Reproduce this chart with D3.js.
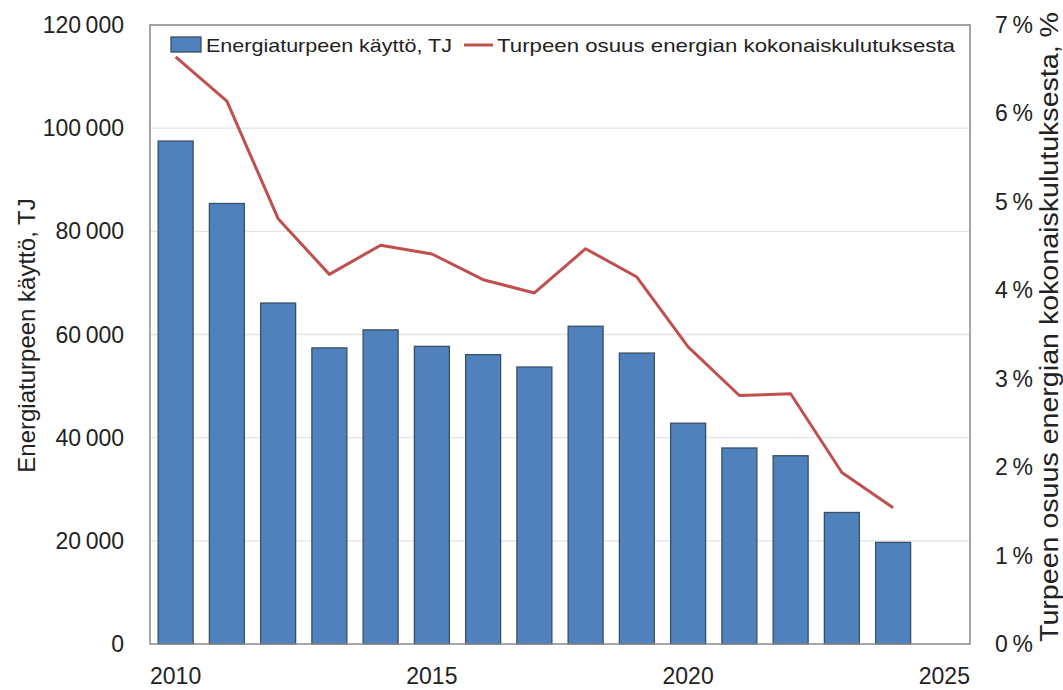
<!DOCTYPE html>
<html>
<head>
<meta charset="utf-8">
<script src="https://cdn.jsdelivr.net/npm/d3@7"></script>
<style>
  body { margin: 0; background: #fff; }
  text { font-family: "Liberation Sans", Arial, sans-serif; fill: #222; }
</style>
</head>
<body>
<svg id="chart" width="1063" height="690"></svg>
<script>
// values
const years = [2010, 2011, 2012, 2013, 2014, 2015, 2016, 2017, 2018, 2019, 2020, 2021, 2022, 2023, 2024];
const peatUseTJ = [97500, 85400, 66100, 57400, 60900, 57700, 56100, 53700, 61600, 56400, 42800, 38000, 36500, 25500, 19700];
const peatSharePct = [6.64, 6.14, 4.81, 4.18, 4.51, 4.41, 4.12, 3.97, 4.47, 4.15, 3.36, 2.81, 2.83, 1.94, 1.54];
const leftTicks = [0, 20000, 40000, 60000, 80000, 100000, 120000];
const rightTicks = [0, 1, 2, 3, 4, 5, 6, 7];
const xTicks = [2010, 2015, 2020, 2025];
const barLabel = 'Energiaturpeen käyttö, TJ';
const lineLabel = 'Turpeen osuus energian kokonaiskulutuksesta';
const leftTitle = 'Energiaturpeen käyttö, TJ';
const rightTitle = 'Turpeen osuus energian kokonaiskulutuksesta, %';

const svg = d3.select('#chart');
const m = { left: 150, right: 970, top: 25, bottom: 644 };

const x = d3.scaleLinear().domain([2009.5, 2025.5]).range([m.left, m.right]);
const yL = d3.scaleLinear().domain([0, 120000]).range([m.bottom, m.top]);
const yR = d3.scaleLinear().domain([0, 7]).range([m.bottom, m.top]);
const fmt = d => d3.format(',')(d).replace(/,/g, '\u2009');
const barW = 35;

// gridlines
svg.append('g').selectAll('line').data(leftTicks.slice(1)).join('line')
  .attr('x1', m.left).attr('x2', m.right)
  .attr('y1', d => yL(d)).attr('y2', d => yL(d))
  .attr('stroke', '#e4e4e4').attr('stroke-width', 1.3);

// bars
svg.append('g').selectAll('rect').data(years).join('rect')
  .attr('x', (d) => x(d) - barW / 2)
  .attr('width', barW)
  .attr('y', (d, i) => yL(peatUseTJ[i]))
  .attr('height', (d, i) => yL(0) - yL(peatUseTJ[i]))
  .attr('fill', '#4f81bd').attr('stroke', '#3a4f66').attr('stroke-width', 1.3);

// line
const line = d3.line().x((d, i) => x(years[i])).y(d => yR(d));
svg.append('path').datum(peatSharePct)
  .attr('d', line).attr('fill', 'none')
  .attr('stroke', '#c0504d').attr('stroke-width', 3).attr('stroke-linejoin', 'round');

// plot frame
svg.append('rect')
  .attr('x', m.left).attr('y', m.top)
  .attr('width', m.right - m.left).attr('height', m.bottom - m.top)
  .attr('fill', 'none').attr('stroke', '#8a8a8a').attr('stroke-width', 1.5);

// left axis labels
svg.append('g').selectAll('text').data(leftTicks).join('text')
  .attr('x', 124).attr('y', d => yL(d) + 8)
  .attr('text-anchor', 'end').attr('font-size', 23)
  .text(fmt);

// right axis labels
svg.append('g').selectAll('text').data(rightTicks).join('text')
  .attr('x', 995).attr('y', d => yR(d) + 8)
  .attr('font-size', 23)
  .text(d => d + '\u2009%');

// x axis labels
svg.append('g').selectAll('text').data(xTicks).join('text')
  .attr('x', d => x(d)).attr('y', 684)
  .attr('text-anchor', 'middle').attr('font-size', 23)
  .text(d => d);

// axis titles
svg.append('text')
  .attr('transform', `translate(35, ${(m.top + m.bottom) / 2 + 1}) rotate(-90)`)
  .attr('text-anchor', 'middle').attr('font-size', 24)
  .text(leftTitle);
svg.append('text')
  .attr('transform', `translate(1058, 327) rotate(-90)`)
  .attr('text-anchor', 'middle').attr('font-size', 26)
  .attr('textLength', 630).attr('lengthAdjust', 'spacingAndGlyphs')
  .text(rightTitle);

// legend
const lg = svg.append('g');
lg.append('rect').attr('x', 171).attr('y', 37).attr('width', 30).attr('height', 15)
  .attr('fill', '#4f81bd').attr('stroke', '#3a4f66').attr('stroke-width', 1.3);
lg.append('text').attr('x', 206).attr('y', 52).attr('font-size', 19)
  .attr('font-family', '"Open Sans", sans-serif')
  .attr('textLength', 246).attr('lengthAdjust', 'spacingAndGlyphs')
  .text(barLabel);
lg.append('line').attr('x1', 464).attr('x2', 493).attr('y1', 45).attr('y2', 45)
  .attr('stroke', '#c0504d').attr('stroke-width', 3);
lg.append('text').attr('x', 497).attr('y', 52).attr('font-size', 19)
  .attr('font-family', '"Open Sans", sans-serif')
  .attr('textLength', 458).attr('lengthAdjust', 'spacingAndGlyphs')
  .text(lineLabel);
</script>
</body>
</html>
